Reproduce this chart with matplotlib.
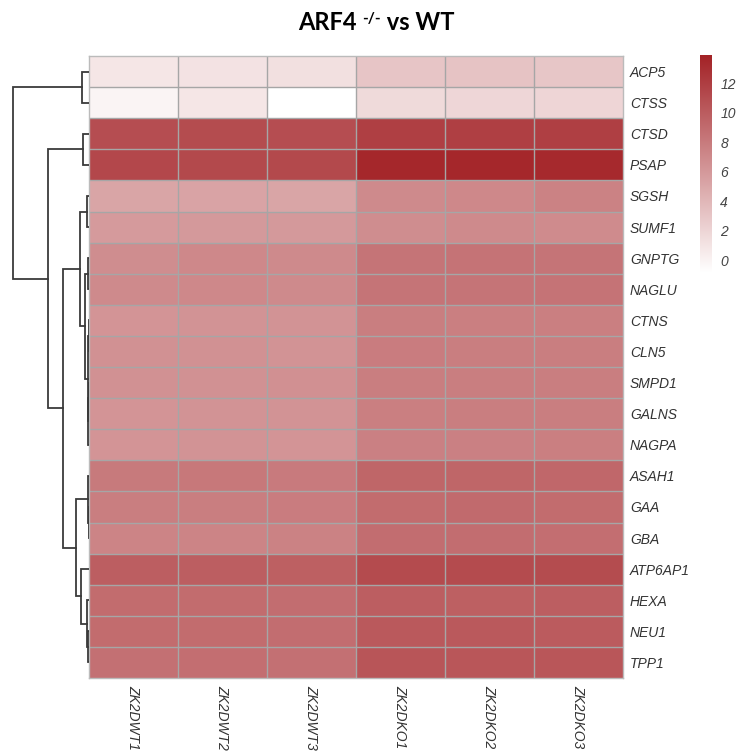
import matplotlib
matplotlib.use("Agg")
import matplotlib.pyplot as plt
import numpy as np
from matplotlib.colors import LinearSegmentedColormap

# genes in displayed (clustered) order
genes = ["ACP5", "CTSS", "CTSD", "PSAP", "SGSH", "SUMF1", "GNPTG", "NAGLU",
         "CTNS", "CLN5", "SMPD1", "GALNS", "NAGPA", "ASAH1", "GAA", "GBA",
         "ATP6AP1", "HEXA", "NEU1", "TPP1"]
samples = ["ZK2DWT1", "ZK2DWT2", "ZK2DWT3", "ZK2DKO1", "ZK2DKO2", "ZK2DKO3"]

# expression values (WT1..3, KO1..3)
ACP5 = [0.9, 1.1, 1.3, 3.1, 3.2, 3.0]
CTSS = [0.0, 0.9, -0.8, 1.7, 1.9, 2.0]
CTSD = [11.0, 11.1, 11.0, 11.9, 11.9, 11.9]
PSAP = [11.4, 11.3, 11.3, 13.5, 13.5, 13.4]
SGSH = [5.2, 5.3, 5.2, 7.0, 7.1, 7.5]
SUMF1 = [5.9, 6.0, 6.0, 6.8, 7.0, 6.9]
GNPTG = [6.8, 7.1, 7.0, 8.4, 8.5, 8.4]
NAGLU = [7.0, 7.1, 7.0, 8.4, 8.4, 8.5]
CTNS = [6.3, 6.4, 6.4, 7.8, 7.7, 7.7]
CLN5 = [6.5, 6.5, 6.4, 7.9, 7.8, 7.8]
SMPD1 = [6.5, 6.5, 6.6, 7.8, 7.8, 7.8]
GALNS = [6.3, 6.4, 6.4, 7.7, 7.8, 7.8]
NAGPA = [6.3, 6.4, 6.3, 7.6, 7.6, 7.7]
ASAH1 = [8.1, 8.2, 8.0, 9.4, 9.4, 9.3]
GAA = [7.8, 7.8, 7.9, 9.0, 9.1, 9.0]
GBA = [7.4, 7.4, 7.5, 8.9, 8.9, 8.8]
ATP6AP1 = [9.9, 9.9, 9.8, 11.2, 11.2, 11.1]
HEXA = [9.0, 9.0, 8.9, 9.9, 9.8, 9.9]
NEU1 = [9.0, 9.0, 8.9, 10.2, 10.2, 10.1]
TPP1 = [8.7, 8.8, 8.7, 10.5, 10.4, 10.4]

values = np.array([ACP5, CTSS, CTSD, PSAP, SGSH, SUMF1, GNPTG, NAGLU, CTNS,
                   CLN5, SMPD1, GALNS, NAGPA, ASAH1, GAA, GBA, ATP6AP1,
                   HEXA, NEU1, TPP1])

# row dendrogram merges (left, right, height) like a linkage table;
# ids 0..19 are leaves, 20+ are the merged clusters in order
merges = [
    (0, 1, 7),      # 20 ACP5/CTSS
    (2, 3, 6),      # 21 CTSD/PSAP
    (4, 5, 2),      # 22 SGSH/SUMF1
    (6, 7, 1.5),    # 23
    (8, 9, 0.5),    # 24
    (10, 11, 0.3),  # 25
    (25, 12, 0.8),  # 26
    (24, 26, 1.5),  # 27
    (23, 27, 4),    # 28
    (22, 28, 9),    # 29
    (14, 15, 0.5),  # 30 GAA/GBA
    (13, 30, 1.2),  # 31
    (18, 19, 1),    # 32 NEU1/TPP1
    (17, 32, 2),    # 33
    (16, 33, 8),    # 34
    (31, 34, 13),   # 35
    (29, 35, 26),   # 36
    (21, 36, 41),   # 37
    (20, 37, 76),   # 38 root
]

vmin, vmax = -0.8, 13.9
cmap = LinearSegmentedColormap.from_list("wr", ["#FFFFFF", "#A32226"])

plt.rcParams['font.family'] = ['Liberation Sans', 'DejaVu Sans']

W, H = 741, 751
fig = plt.figure(figsize=(W / 100, H / 100), dpi=100)


def box(x0, y0, x1, y1):
    return [x0 / W, 1 - y1 / H, (x1 - x0) / W, (y1 - y0) / H]


# heatmap
ax = fig.add_axes(box(89, 56, 623, 678))
ax.pcolormesh(values, cmap=cmap, vmin=vmin, vmax=vmax)
nr, nc = values.shape
ax.hlines(np.arange(1, nr), 0, nc, color="#A6A6A6", lw=1.0, snap=True)
ax.vlines(np.arange(1, nc), 0, nr, color="#A6A6A6", lw=1.0, snap=True)
ax.set_xlim(0, nc)
ax.set_ylim(nr, 0)
ax.set_yticks(np.arange(nr) + 0.5)
ax.set_yticklabels(genes, fontstyle="italic", fontsize=10, color="#333333")
ax.yaxis.tick_right()
ax.set_xticks(np.arange(nc) + 0.5)
ax.set_xticklabels(samples, rotation=270, fontstyle="italic", fontsize=10,
                   color="#333333", va="top")
ax.tick_params(length=0, pad=5)
for s in ax.spines.values():
    s.set_color("#BBBBBB")
    s.set_linewidth(1.0)

# dendrogram
dax = fig.add_axes(box(11, 56, 89, 678))
pos = {i: (i + 0.5, 0.0) for i in range(len(genes))}
for k, (a, b, h) in enumerate(merges):
    ya, ha = pos[a]
    yb, hb = pos[b]
    dax.plot([ha, h, h, hb], [ya, ya, yb, yb], color="#3A3A3A", lw=1.3,
             solid_joinstyle="miter")
    pos[len(genes) + k] = ((ya + yb) / 2, h)
dax.set_xlim(78, 0)
dax.set_ylim(len(genes), 0)
dax.axis("off")

# colorbar
cax = fig.add_axes(box(700, 55, 712, 272))
grad = np.linspace(vmin, vmax, 256).reshape(-1, 1)
cax.imshow(grad, aspect="auto", cmap=cmap, vmin=vmin, vmax=vmax,
           origin="lower", extent=[0, 1, vmin, vmax])
cax.set_xticks([])
cax.yaxis.tick_right()
cax.set_yticks(np.arange(0, 13, 2))
cax.tick_params(length=0, pad=6, labelsize=10, labelcolor="#444444")
for lab in cax.get_yticklabels():
    lab.set_fontstyle("italic")
for s in cax.spines.values():
    s.set_visible(False)

# title in three pieces so the superscript keeps plain hyphens
parts = [("ARF4 ", 17, 0), ("-/-", 11, 7), (" vs WT", 17, 0)]
renderer = fig.canvas.get_renderer()
texts = []
for txt, size, rise in parts:
    t = fig.text(0, 1 - 30 / H, txt, fontsize=size, fontweight="bold",
                 family="Lato", ha="left", va="baseline")
    texts.append((t, rise))
widths = [t.get_window_extent(renderer).width for t, _ in texts]
x = 376 - sum(widths) / 2
for (t, rise), w in zip(texts, widths):
    t.set_position((x / W, 1 - (30 - rise) / H))
    x += w

fig.savefig("out.png", dpi=100)
